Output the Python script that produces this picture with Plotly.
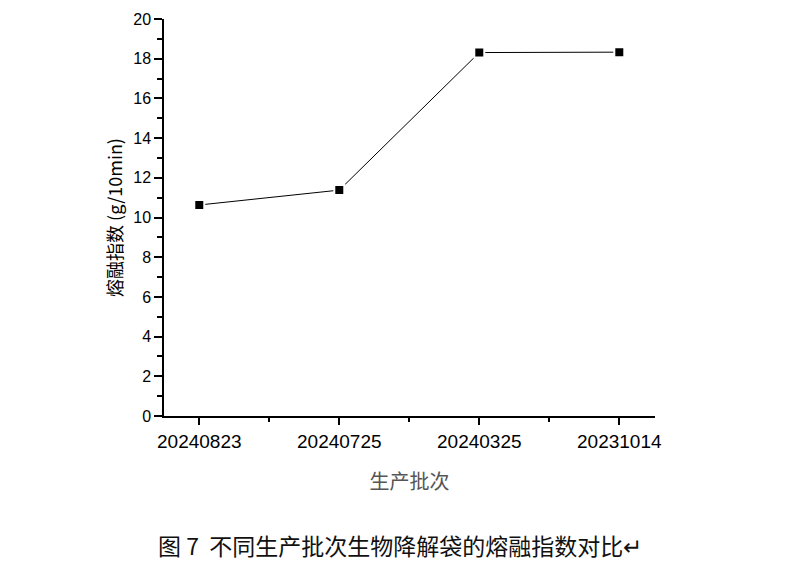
import plotly.graph_objects as go

batches = ["20240823", "20240725", "20240325", "20231014"]
melt_index = [10.63, 11.38, 18.31, 18.33]
y_title = "熔融指数 (g/10min)"
x_title = "生产批次"
caption = "图 7\u00a0\u00a0不同生产批次生物降解袋的熔融指数对比↵"

xpos = list(range(len(batches)))

fig = go.Figure()
fig.add_trace(go.Scatter(
    x=xpos, y=melt_index, mode="lines+markers",
    line=dict(color="black", width=1),
    marker=dict(symbol="square", size=10, color="black",
                line=dict(color="white", width=2)),
    showlegend=False,
))

fig.update_layout(
    width=800, height=574,
    margin=dict(l=164, r=145, t=19, b=158),
    plot_bgcolor="white", paper_bgcolor="white",
    font=dict(family="Liberation Sans, Arial, sans-serif", color="black"),
    xaxis=dict(
        range=[-0.252, 3.255], tickvals=xpos, ticktext=batches,
        showgrid=False, zeroline=False, showline=True, linecolor="black", linewidth=1.5,
        ticks="outside", ticklen=7, tickwidth=1.5, tickcolor="black",
        tickfont=dict(size=19, family="Liberation Sans, Arial"),
        minor=dict(tickvals=[0.5, 1.5, 2.5], ticks="outside", ticklen=4, tickwidth=1.5, tickcolor="black"),
        title=dict(text=x_title, font=dict(size=20, color="#555555", family="Noto Sans CJK SC"), standoff=24),
    ),
    yaxis=dict(
        range=[0, 20], dtick=2, showgrid=False, zeroline=False,
        showline=True, linecolor="black", linewidth=1.5,
        ticks="outside", ticklen=8, tickwidth=1.5, tickcolor="black",
        tickfont=dict(size=16, family="Liberation Sans, Arial"),
        minor=dict(dtick=1, ticks="outside", ticklen=5, tickwidth=1.5, tickcolor="black"),
        title=dict(text=y_title, font=dict(size=18, family="Noto Sans CJK SC, Liberation Sans"), standoff=6),
    ),
    annotations=[dict(
        text=caption, xref="paper", yref="paper", x=0.48, y=-0.325,
        xanchor="center", yanchor="middle", showarrow=False,
        font=dict(size=23, family="Noto Sans CJK SC", color="#111111"),
    )],
)

fig.write_html("out.html")
